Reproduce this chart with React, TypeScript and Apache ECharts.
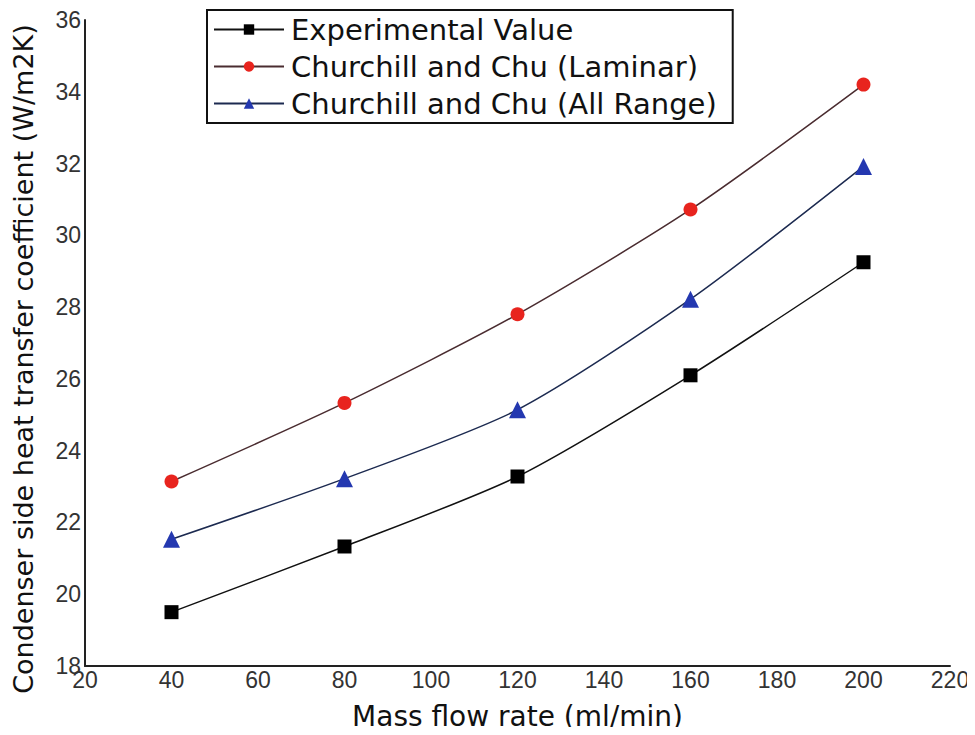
import React, { useEffect, useRef } from "react";
import * as echarts from "echarts";

const massFlow = [40, 80, 120, 160, 200];
const experimental = [19.5, 21.33, 23.28, 26.1, 29.25];
const laminar = [23.14, 25.33, 27.8, 30.72, 34.2];
const allRange = [21.53, 23.22, 25.14, 28.22, 31.92];
const seriesNames = [
  "Experimental Value",
  "Churchill and Chu (Laminar)",
  "Churchill and Chu (All Range)",
];

const pairs = (ys: number[]) => massFlow.map((x, i) => [x, ys[i]]);

export default function App() {
  const ref = useRef<HTMLDivElement>(null);
  useEffect(() => {
    if (!ref.current) return;
    const chart = echarts.init(ref.current, undefined, { renderer: "svg" });
    const font = "'Liberation Sans', Arial, sans-serif";
    const wide = "'DejaVu Sans', 'Liberation Sans', sans-serif";
    chart.setOption({
      animation: false,
      backgroundColor: "#ffffff",
      textStyle: { fontFamily: font },
      grid: { left: 85, right: 25, top: 20, bottom: 67, containLabel: false },
      legend: {
        left: 207,
        top: 10,
        orient: "vertical",
        itemWidth: 70,
        itemHeight: 13,
        itemGap: 8,
        padding: [5, 16, 5, 6],
        borderColor: "#111",
        borderWidth: 2,
        textStyle: { fontSize: 29, color: "#111", fontFamily: wide, padding: [0, 0, 0, 2] },
        data: seriesNames,
      },
      xAxis: {
        type: "value",
        min: 20,
        max: 220,
        interval: 20,
        name: "Mass flow rate (ml/min)",
        nameLocation: "middle",
        nameGap: 36,
        nameTextStyle: { fontSize: 28, color: "#111", fontFamily: wide },
        axisLine: { show: true, lineStyle: { color: "#222", width: 2 } },
        axisTick: { show: false },
        splitLine: { show: false },
        axisLabel: { fontSize: 23, color: "#333", margin: 2, fontFamily: font },
      },
      yAxis: {
        type: "value",
        min: 18,
        max: 36,
        interval: 2,
        name: "Condenser side heat transfer coefficient (W/m2K)",
        nameLocation: "middle",
        nameGap: 48,
        nameTextStyle: { fontSize: 27, color: "#111", fontFamily: wide, padding: [0, 0, 0, -32] },
        axisLine: { show: true, lineStyle: { color: "#222", width: 2 } },
        axisTick: { show: false },
        splitLine: { show: false },
        axisLabel: { fontSize: 23, color: "#333", margin: 4, fontFamily: font },
      },
      series: [
        {
          name: seriesNames[0],
          type: "line",
          data: pairs(experimental),
          smooth: 0.25,
          symbol: "rect",
          symbolSize: 14,
          itemStyle: { color: "#000000" },
          lineStyle: { color: "#111111", width: 1.5 },
        },
        {
          name: seriesNames[1],
          type: "line",
          data: pairs(laminar),
          smooth: 0.25,
          symbol: "circle",
          symbolSize: 14,
          itemStyle: { color: "#e8241e" },
          lineStyle: { color: "#4a2c30", width: 1.5 },
        },
        {
          name: seriesNames[2],
          type: "line",
          data: pairs(allRange),
          smooth: 0.25,
          symbol: "triangle",
          symbolSize: 17,
          itemStyle: { color: "#2438b0" },
          lineStyle: { color: "#1c2a50", width: 1.5 },
        },
      ],
    });
    return () => chart.dispose();
  }, []);
  return <div ref={ref} style={{ width: 975, height: 735, margin: -8 }} />;
}
